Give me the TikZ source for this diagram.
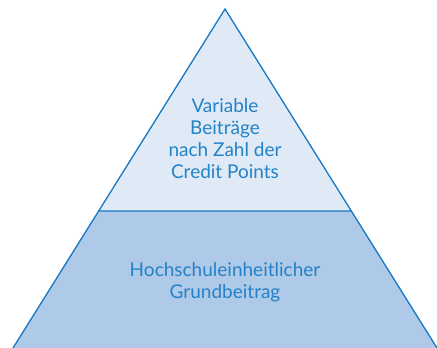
\documentclass[tikz,border=0pt]{standalone}
\usepackage{fontspec}
\setsansfont{Lato}
\definecolor{pyrline}{RGB}{20,120,195}
\definecolor{pyrtext}{RGB}{35,130,200}
\definecolor{pyrtop}{RGB}{224,233,246}
\definecolor{pyrlow}{RGB}{175,201,232}
\tikzset{
  pyrlabel/.style={align=center, text=pyrtext, font=\sffamily\fontsize{19}{22}\selectfont}
}
\begin{document}
\begin{tikzpicture}[x=1pt,y=-1pt]
\useasboundingbox (0,0) rectangle (437,348);
\clip (0,0) rectangle (437,348);
% corners of the pyramid and the split line
\coordinate (apex) at (225,9);
\coordinate (bl) at (13,348);
\coordinate (br) at (437,348);
\coordinate (ml) at (98.7,211);
\coordinate (mr) at (351.3,211);
\fill[pyrtop] (apex) -- (ml) -- (mr) -- cycle;
\fill[pyrlow] (ml) -- (bl) -- (br) -- (mr) -- cycle;
\draw[pyrline, line width=1.3pt] (bl) -- (apex) -- (br) (ml) -- (mr);
% labels
\node[pyrlabel] (variabel) at (225,139) {Variable\\Beiträge\\nach Zahl der\\Credit Points};
\node[pyrlabel] (grund) at (225,282) {Hochschuleinheitlicher\\Grundbeitrag};
\end{tikzpicture}
\end{document}
